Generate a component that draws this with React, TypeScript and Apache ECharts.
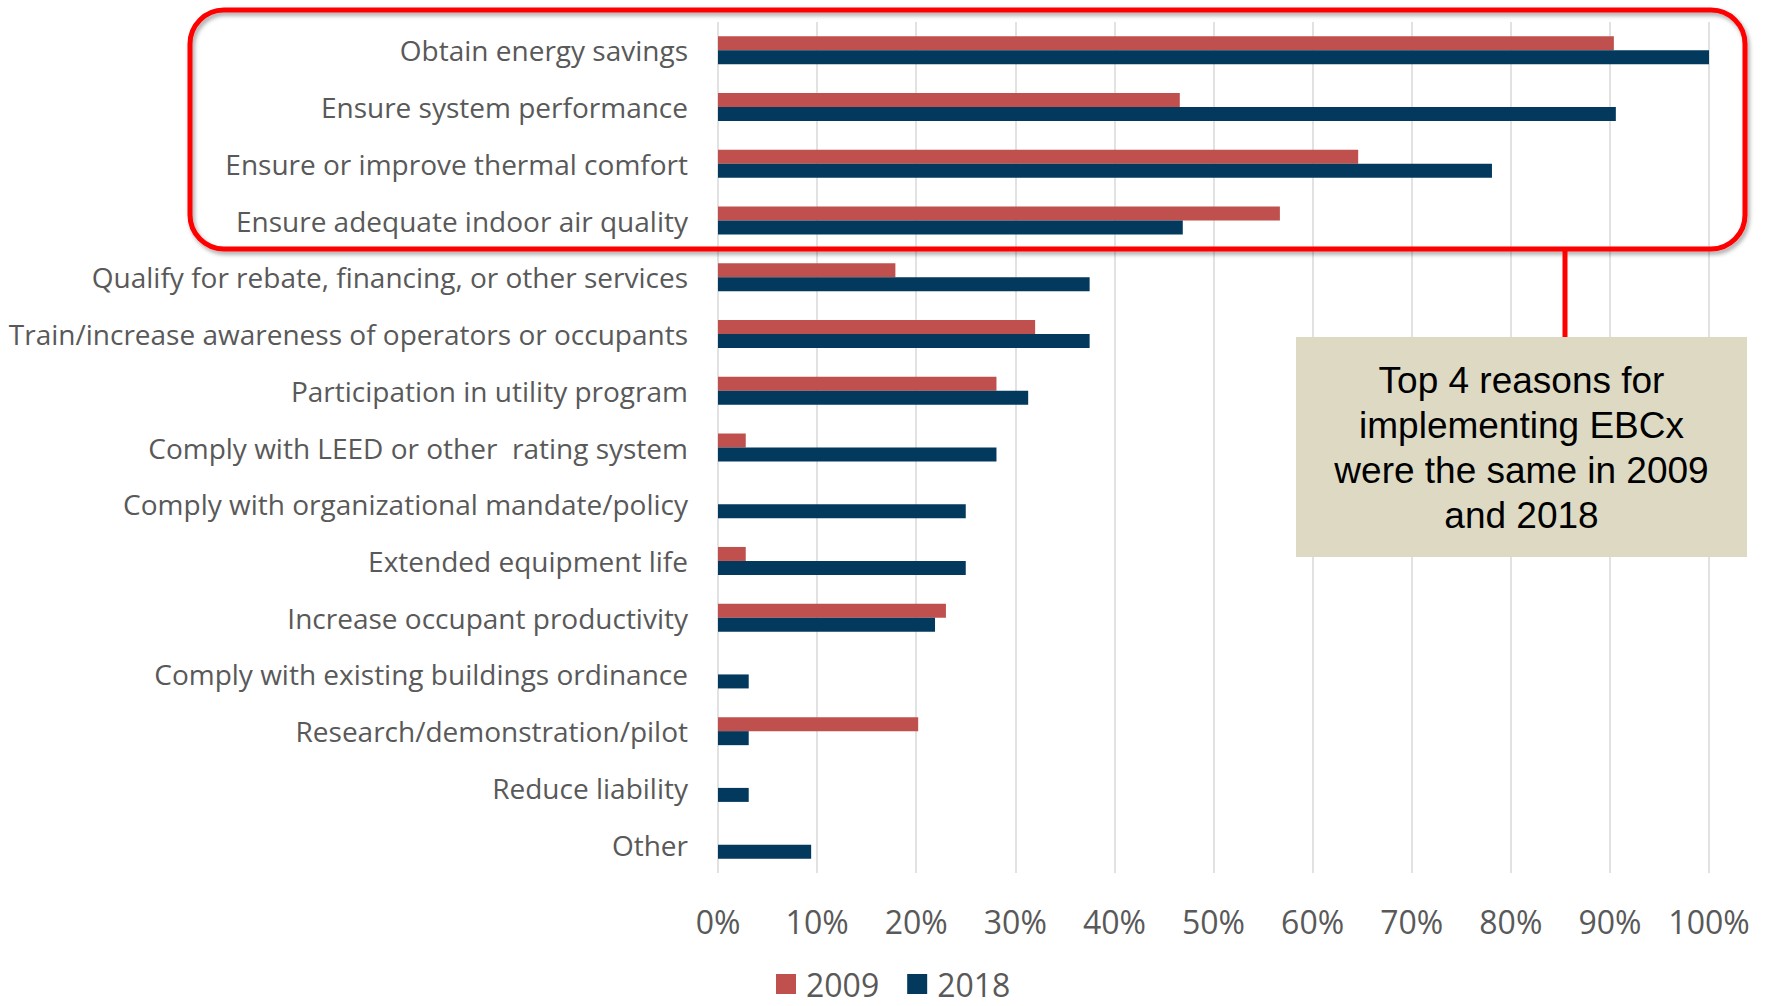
import React, { useEffect, useRef } from "react";
import * as echarts from "echarts";

const categories = [
  "Obtain energy savings",
  "Ensure system performance",
  "Ensure or improve thermal comfort",
  "Ensure adequate indoor air quality",
  "Qualify for rebate, financing, or other services",
  "Train/increase awareness of operators or occupants",
  "Participation in utility program",
  "Comply with LEED or other  rating system",
  "Comply with organizational mandate/policy",
  "Extended equipment life",
  "Increase occupant productivity",
  "Comply with existing buildings ordinance",
  "Research/demonstration/pilot",
  "Reduce liability",
  "Other",
];

const values2009 = [90.4, 46.6, 64.6, 56.7, 17.9, 32.0, 28.1, 2.8, 0, 2.8, 23.0, 0, 20.2, 0, 0];
const values2018 = [100, 90.6, 78.1, 46.9, 37.5, 37.5, 31.3, 28.1, 25.0, 25.0, 21.9, 3.1, 3.1, 3.1, 9.4];

const seriesNames = ["2009", "2018"];
const annotationText = "Top 4 reasons for\nimplementing EBCx\nwere the same in 2009\nand 2018";

export default function App() {
  const ref = useRef<HTMLDivElement>(null);

  useEffect(() => {
    document.body.style.margin = "0";
    if (!ref.current) return;
    const chart = echarts.init(ref.current, undefined, { renderer: "svg" });
    const grey = "#595959";
    chart.setOption({
      animation: false,
      backgroundColor: "#ffffff",
      grid: { left: 718, right: 59, top: 22, bottom: 133, containLabel: false },
      legend: {
        data: seriesNames,
        left: 771,
        top: 963,
        icon: "rect",
        itemWidth: 20,
        itemHeight: 20,
        itemGap: 28,
        textStyle: { fontFamily: "Open Sans", fontSize: 32, lineHeight: 32, color: grey, padding: [0, 0, 0, 5] },
      },
      xAxis: {
        type: "value",
        min: 0,
        max: 100,
        interval: 10,
        axisLine: { show: false },
        axisTick: { show: false },
        axisLabel: {
          formatter: "{value}%",
          fontFamily: "Open Sans",
          fontSize: 32,
          color: grey,
          margin: 32,
        },
        splitLine: { show: true, lineStyle: { color: "#d9d9d9", width: 1.5 } },
      },
      yAxis: {
        type: "category",
        data: categories,
        inverse: true,
        axisLine: { show: false },
        axisTick: { show: false },
        axisLabel: {
          fontFamily: "Open Sans",
          fontSize: 28,
          color: grey,
          margin: 30,
        },
      },
      series: [
        {
          name: seriesNames[0],
          type: "bar",
          data: values2009,
          barWidth: 14,
          barGap: "0%",
          itemStyle: { color: "#C0504D" },
        },
        {
          name: seriesNames[1],
          type: "bar",
          data: values2018,
          barWidth: 14,
          barGap: "0%",
          itemStyle: { color: "#03395C" },
        },
      ],
      graphic: [
        {
          type: "rect",
          z: 100,
          shape: { x: 190, y: 10, width: 1555, height: 239, r: 34 },
          style: {
            fill: "none",
            stroke: "#ff0000",
            lineWidth: 5,
            shadowBlur: 4,
            shadowOffsetX: 2,
            shadowOffsetY: 3,
            shadowColor: "rgba(0,0,0,0.35)",
          },
        },
        {
          type: "line",
          z: 100,
          shape: { x1: 1565, y1: 250, x2: 1565, y2: 337 },
          style: { stroke: "#ff0000", lineWidth: 5 },
        },
        {
          type: "rect",
          z: 101,
          shape: { x: 1296, y: 337, width: 451, height: 220 },
          style: { fill: "#DDD9C3" },
        },
        {
          type: "text",
          z: 102,
          x: 1521.5,
          y: 448,
          style: {
            text: annotationText,
            fontFamily: "Liberation Sans",
            fontSize: 37,
            lineHeight: 45,
            fill: "#000000",
            align: "center",
            verticalAlign: "middle",
          },
        },
      ],
    });
    return () => chart.dispose();
  }, []);

  return <div ref={ref} style={{ width: 1768, height: 1006 }} />;
}
